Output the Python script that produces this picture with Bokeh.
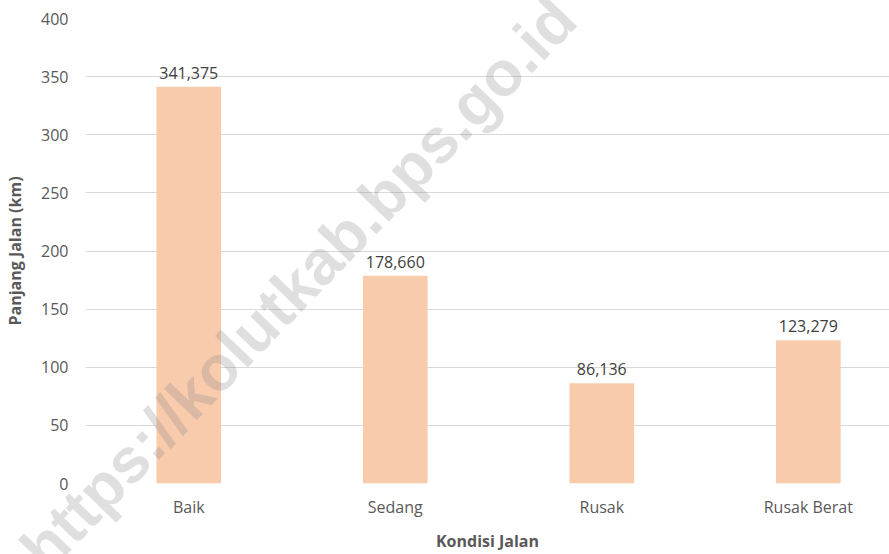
from bokeh.plotting import figure
from bokeh.models import ColumnDataSource, LabelSet, Range1d, FixedTicker
from bokeh.core.properties import value
from bokeh.embed import file_html
from bokeh.resources import INLINE
import math

categories = ["Baik", "Sedang", "Rusak", "Rusak Berat"]
values = [341.375, 178.660, 86.136, 123.279]
value_labels = ["341,375", "178,660", "86,136", "123,279"]
y_ticks = [0, 50, 100, 150, 200, 250, 300, 350, 400]
watermark = "https://kolutkab.bps.go.id"

xs = list(range(len(categories)))
src = ColumnDataSource(dict(x=xs, top=values, lab=value_labels))

FONT = "Open Sans"
p = figure(width=889, height=554, output_backend="svg", toolbar_location=None,
           x_range=Range1d(-0.5, 3.393), y_range=Range1d(0, 400),
           min_border_left=85, min_border_right=0, min_border_top=18, min_border_bottom=71)
p.outline_line_color = None
p.background_fill_color = "white"
p.border_fill_color = "white"

p.vbar(x="x", top="top", width=0.313, bottom=0, source=src, fill_color="#F8CBAD", line_color=None)

p.add_layout(LabelSet(x="x", y="top", text="lab", source=src, y_offset=8,
                      text_align="center", text_baseline="bottom",
                      text_font=value(FONT), text_font_size=value("16px"), text_color="#404040"))

# axes
p.xaxis.ticker = FixedTicker(ticks=xs)
p.xaxis.major_label_overrides = {i: c for i, c in enumerate(categories)}
p.yaxis.ticker = FixedTicker(ticks=y_ticks)
for ax in (p.xaxis[0], p.yaxis[0]):
    ax.axis_line_color = None
    ax.major_tick_line_color = None
    ax.minor_tick_line_color = None
    ax.major_label_text_font = FONT
    ax.major_label_text_font_size = "16px"
    ax.major_label_text_color = "#595959"
    ax.axis_label_text_font = FONT
    ax.axis_label_text_font_size = "16px"
    ax.axis_label_text_font_style = "bold"
    ax.axis_label_text_color = "#595959"
p.xaxis.axis_label = "Kondisi Jalan"
p.yaxis.axis_label = "Panjang Jalan (km)"
p.xaxis.major_label_standoff = 6
p.xaxis.axis_label_standoff = 9
p.yaxis.major_label_standoff = 11
p.yaxis.axis_label_standoff = 12

p.xgrid.grid_line_color = None
p.ygrid.grid_line_color = "#d9d9d9"
p.ygrid.grid_line_width = 1

# watermark, drawn at annotation level so it is not clipped to the plot frame
p.text(x=[0.53], y=[172], text=[watermark], angle=math.radians(46),
       text_align="center", text_baseline="middle", text_font=value("Liberation Sans"),
       text_font_style="bold", text_font_size=value("63px"), text_color="#808080",
       text_alpha=0.25, level="annotation")

open("out.html", "w").write(file_html(p, INLINE))
